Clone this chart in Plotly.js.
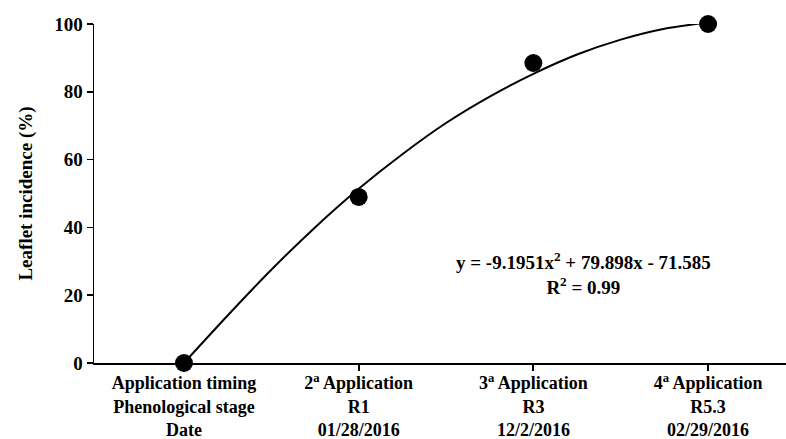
<!DOCTYPE html>
<html>
<head>
<meta charset="utf-8">
<script src="https://cdn.plot.ly/plotly-3.0.1.min.js"></script>
<style>html,body{margin:0;padding:0;background:#fff;}#chart{width:786px;height:439px;}</style>
</head>
<body>
<div id="chart"></div>
<script>
// Observed data
const categoryPos = [1, 2, 3, 4];
const categoryLabels = [
  "Application timing<br>Phenological stage<br>Date",
  "2<sup>a</sup> Application<br>R1<br>01/28/2016",
  "3<sup>a</sup> Application<br>R3<br>12/2/2016",
  "4<sup>a</sup> Application<br>R5.3<br>02/29/2016"
];
const incidence = [0, 49, 88.5, 100];

// Trend curve
const curveX = [1, 1.25, 1.5, 1.75, 2, 2.25, 2.5, 2.75, 3, 3.25, 3.5, 3.75, 4];
const curveY = [0, 14, 27.5, 40, 51.4, 61.6, 70.8, 78.6, 85.3, 91.0, 95.4, 98.6, 100.5];

const equationText = "y = -9.1951x<sup>2</sup> + 79.898x - 71.585<br>R<sup>2</sup> = 0.99";

const fam = "Liberation Serif, Times New Roman, serif";

const traces = [
  {x: curveX, y: curveY, mode: "lines", line: {color: "#000", width: 2, shape: "spline", smoothing: 0.6}, hoverinfo: "skip", showlegend: false},
  {x: categoryPos, y: incidence, mode: "markers", marker: {color: "#000", size: 18}, showlegend: false, cliponaxis: false}
];

const layout = {
  width: 786, height: 439,
  margin: {l: 94, r: 0, t: 24, b: 76},
  paper_bgcolor: "#fff", plot_bgcolor: "#fff",
  font: {family: fam, size: 18, color: "#000"},
  showlegend: false,
  xaxis: {
    range: [0.485, 4.446], tickvals: categoryPos, ticktext: categoryLabels,
    showgrid: false, zeroline: false, showline: true, linecolor: "#000", linewidth: 1.5,
    ticks: "outside", ticklen: 6, tickwidth: 2, tickcolor: "#000",
    ticklabelstandoff: -3,
    tickfont: {family: fam, size: 18, color: "#000", weight: "bold"}
  },
  yaxis: {
    range: [0, 100], tickvals: [0, 20, 40, 60, 80, 100],
    showgrid: false, zeroline: false, showline: true, linecolor: "#000", linewidth: 1.5,
    ticks: "outside", ticklen: 6, tickwidth: 1.5, tickcolor: "#000",
    tickfont: {family: fam, size: 19, color: "#000", weight: "bold"},
    title: {text: "Leaflet incidence (%)", font: {family: fam, size: 19, color: "#000", weight: "bold"}, standoff: 16}
  },
  annotations: [{
    xref: "paper", yref: "paper", x: 0.707, y: 0.265, xanchor: "center", yanchor: "middle",
    text: equationText, showarrow: false, align: "center",
    font: {family: fam, size: 19, color: "#000", weight: "bold"}
  }]
};

Plotly.newPlot("chart", traces, layout, {displayModeBar: false, staticPlot: true});
</script>
</body>
</html>
